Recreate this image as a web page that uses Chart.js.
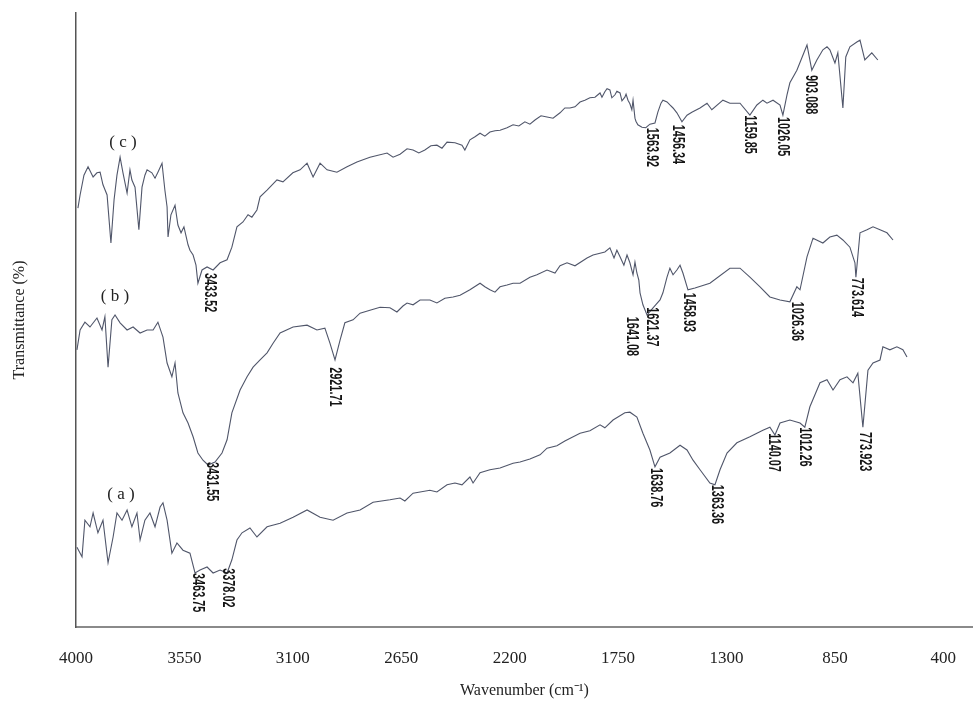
<!DOCTYPE html>
<html>
<head>
<meta charset="utf-8">
<script src="https://cdn.jsdelivr.net/npm/chart.js@4.4.1/dist/chart.umd.min.js"></script>
<style>
  html, body { margin: 0; padding: 0; background: #fff; }
  #c { display: block; }
</style>
</head>
<body>
<canvas id="c" width="973" height="709"></canvas>
<script>
// ---- Data: [wavenumber (cm-1), transmittance (offset %)] ----
const tickValues = [4000, 3550, 3100, 2650, 2200, 1750, 1300, 850, 400];

const seriesC = [
[3992,69.8],[3983,72.0],[3967,75.3],[3950,76.7],[3929,75.0],[3913,75.7],[3900,75.8],[3888,73.7],[3871,72.0],[3855,64.0],
[3842,71.2],[3830,75.3],[3817,78.3],[3805,75.7],[3788,72.3],[3776,76.2],[3768,74.5],[3755,73.3],[3739,66.2],[3726,73.3],
[3714,75.3],[3705,76.2],[3685,75.7],[3672,74.8],[3660,75.8],[3643,77.3],[3631,72.8],[3622,70.0],[3618,65.0],[3606,68.7],
[3589,70.3],[3577,67.0],[3564,65.7],[3552,66.7],[3535,63.7],[3527,62.8],[3514,62.0],[3502,60.3],[3494,57.3],[3477,59.5],
[3456,60.0],[3431,59.5],[3402,60.7],[3373,61.2],[3353,63.3],[3332,66.7],[3307,67.5],[3286,68.7],[3270,68.3],[3249,69.5],
[3236,71.7],[3207,72.8],[3166,74.5],[3141,74.2],[3100,75.7],[3070,76.2],[3041,77.3],[3016,75.0],[2987,77.3],[2958,76.2],
[2917,75.8],[2875,76.7],[2834,77.5],[2780,78.3],[2709,79.0],[2684,78.3],[2655,78.8],[2626,79.7],[2601,79.5],[2577,79.0],
[2552,79.5],[2527,80.2],[2502,80.3],[2481,79.8],[2460,80.8],[2427,80.7],[2398,80.3],[2386,79.5],[2365,81.2],[2344,81.7],
[2323,82.3],[2303,81.8],[2282,82.5],[2261,82.7],[2240,82.8],[2211,83.2],[2186,83.7],[2162,83.5],[2137,84.2],[2116,83.8],
[2095,84.5],[2070,85.2],[2045,85.0],[2020,84.8],[1991,85.7],[1971,86.5],[1950,86.5],[1929,86.7],[1908,87.5],[1888,87.8],
[1867,88.2],[1846,88.3],[1825,89.0],[1817,88.3],[1805,89.2],[1796,89.7],[1784,89.5],[1776,88.2],[1763,88.7],[1755,89.3],
[1742,89.0],[1734,87.7],[1722,88.3],[1717,88.8],[1709,87.8],[1701,87.2],[1693,86.2],[1688,87.8],[1680,84.8],[1676,84.3],
[1668,83.7],[1651,83.3],[1635,83.2],[1618,83.8],[1597,84.0],[1585,85.8],[1572,87.3],[1564,87.8],[1547,87.5],[1535,87.0],
[1522,86.5],[1506,85.7],[1485,84.2],[1464,85.3],[1444,85.8],[1410,86.5],[1381,87.3],[1361,86.2],[1315,87.8],[1286,87.3],
[1244,87.3],[1203,85.3],[1174,87.0],[1149,87.8],[1132,87.3],[1107,87.8],[1078,87.0],[1066,85.3],[1049,88.7],[1037,90.7],
[1008,92.8],[983,95.3],[966,97.0],[946,92.8],[925,94.5],[900,96.2],[883,96.7],[871,96.2],[850,94.0],[838,95.7],
[817,86.5],[805,95.0],[788,96.7],[759,97.5],[746,97.8],[726,94.5],[697,95.7],[672,94.5]
];

const seriesB = [
[3996,46.2],[3983,49.5],[3963,50.8],[3942,50.0],[3913,51.5],[3892,49.5],[3880,51.7],[3867,43.3],[3851,51.2],[3838,52.0],
[3817,50.7],[3788,49.5],[3763,50.0],[3734,49.0],[3705,49.5],[3680,49.5],[3660,50.8],[3639,48.3],[3622,44.0],[3602,41.7],
[3589,44.0],[3577,39.0],[3556,35.7],[3535,34.0],[3514,31.7],[3494,29.0],[3473,27.8],[3452,27.0],[3423,27.5],[3394,29.0],
[3373,31.2],[3353,35.7],[3319,39.5],[3290,41.7],[3265,43.3],[3236,44.5],[3207,45.7],[3182,47.3],[3153,49.0],[3099,50.0],
[3041,50.3],[3000,49.5],[2967,49.8],[2946,47.3],[2925,44.5],[2904,47.8],[2884,50.7],[2850,51.2],[2821,52.3],[2780,52.8],
[2738,53.3],[2697,53.2],[2668,52.5],[2643,53.5],[2626,54.0],[2601,53.7],[2572,54.5],[2531,54.5],[2502,54.0],[2469,54.8],
[2435,55.0],[2406,55.3],[2365,56.2],[2323,57.3],[2303,56.7],[2282,56.2],[2261,55.8],[2240,56.7],[2211,57.0],[2186,57.3],
[2157,57.3],[2116,58.3],[2087,58.7],[2045,59.5],[2012,59.0],[1991,60.2],[1962,60.7],[1929,60.2],[1879,61.5],[1854,62.0],
[1825,62.3],[1805,62.5],[1784,63.2],[1767,61.5],[1755,62.8],[1742,61.7],[1726,60.3],[1713,62.0],[1701,60.7],[1688,58.7],
[1680,60.8],[1672,59.0],[1664,57.8],[1659,55.7],[1647,53.7],[1630,52.0],[1605,53.2],[1576,54.5],[1564,55.7],[1547,58.3],
[1535,59.8],[1522,58.7],[1506,59.5],[1493,60.3],[1481,59.0],[1460,56.2],[1431,56.5],[1369,57.3],[1286,59.8],[1244,59.8],
[1203,58.3],[1161,56.7],[1120,55.0],[1078,54.5],[1037,54.2],[1008,56.7],[995,56.2],[966,61.7],[941,64.8],[900,64.0],
[871,65.0],[842,65.3],[817,64.5],[788,63.3],[767,60.7],[763,58.3],[746,65.7],[717,66.2],[692,66.7],[663,66.2],
[634,65.7],[609,64.5]
];

const seriesA = [
[3996,13.3],[3975,11.7],[3963,17.8],[3942,16.7],[3929,19.0],[3909,15.7],[3888,17.8],[3867,10.7],[3846,15.0],[3830,19.0],
[3809,17.8],[3788,19.5],[3768,16.7],[3747,19.0],[3734,14.5],[3714,17.8],[3693,19.0],[3672,16.7],[3651,20.0],[3639,20.7],
[3622,17.8],[3602,12.3],[3581,14.0],[3556,12.8],[3527,12.3],[3506,9.0],[3485,9.5],[3456,10.0],[3431,9.0],[3402,9.5],
[3373,9.0],[3353,11.2],[3332,14.5],[3311,15.7],[3278,16.5],[3249,15.0],[3207,16.7],[3153,17.3],[3099,18.3],[3041,19.5],
[2987,18.3],[2933,17.8],[2875,19.0],[2821,19.5],[2767,20.8],[2697,21.2],[2655,21.5],[2635,21.0],[2601,22.3],[2572,22.5],
[2531,22.8],[2502,22.5],[2460,23.7],[2427,24.0],[2398,23.7],[2365,25.0],[2352,24.0],[2323,25.7],[2282,26.2],[2240,26.5],
[2186,27.3],[2157,27.5],[2116,28.0],[2074,28.7],[2045,29.8],[2004,30.2],[1971,31.0],[1908,32.3],[1867,32.7],[1825,33.7],
[1805,33.2],[1771,34.5],[1722,35.7],[1701,35.8],[1672,35.0],[1647,32.3],[1618,29.5],[1597,26.7],[1576,28.3],[1535,29.0],
[1493,30.3],[1464,29.5],[1439,27.8],[1410,26.2],[1369,24.0],[1348,23.7],[1327,26.2],[1298,29.0],[1257,30.7],[1203,31.7],
[1149,32.8],[1120,33.3],[1099,32.0],[1078,34.0],[1037,34.5],[995,34.0],[975,33.3],[954,36.7],[912,40.7],[883,41.2],
[858,39.5],[829,41.2],[800,41.7],[775,40.7],[755,42.3],[734,33.3],[713,42.8],[692,44.0],[663,44.5],[651,46.7],
[622,46.2],[593,46.7],[568,46.2],[551,45.0]
];

// Peak annotations
const annText = ["3433.52","3431.55","2921.71","3463.75","3378.02","1563.92","1456.34","1641.08","1621.37","1458.93","1159.85","1026.05","903.088","1026.36","773.614","1638.76","1363.36","1140.07","1012.26","773.923"];
const annX = [3448,3436,2929,3498,3373,1610,1502,1693,1610,1460,1203,1066,950,1008,759,1597,1344,1107,975,726];
const annY = [59.0,27.5,43.3,9.0,9.8,83.2,83.7,51.7,53.3,55.7,85.3,85.0,92.0,54.2,58.2,26.5,23.7,32.3,33.3,32.5];

// Curve names
const names = ["( a )", "( b )", "( c )"];
const nameX = [3813, 3838, 3805];
const nameY = [22.0, 55.0, 80.7];

// ---- Chart ----
const toXY = (s) => s.map(p => ({ x: p[0], y: p[1] }));
const lineColor = '#50566a';

const labelPlugin = {
  id: 'peakLabels',
  afterDatasetsDraw(chart) {
    const { ctx, scales: { x, y } } = chart;
    ctx.save();
    ctx.fillStyle = '#151515';
    ctx.font = 'bold 16px "Liberation Sans", Arial, sans-serif';
    ctx.textBaseline = 'middle';
    ctx.textAlign = 'left';
    annText.forEach((t, i) => {
      const px = x.getPixelForValue(annX[i]);
      const py = y.getPixelForValue(annY[i]);
      ctx.save();
      ctx.translate(px, py);
      ctx.rotate(Math.PI / 2);
      ctx.scale(0.68, 1);
      ctx.fillText(t, 0, 0);
      ctx.restore();
    });
    ctx.font = '17px "Liberation Serif", "Times New Roman", serif';
    ctx.textAlign = 'center';
    ctx.fillStyle = '#222';
    names.forEach((n, i) => {
      ctx.fillText(n, x.getPixelForValue(nameX[i]), y.getPixelForValue(nameY[i]));
    });
    ctx.restore();
  }
};

Chart.defaults.font.family = '"Liberation Serif", "Times New Roman", serif';
Chart.defaults.color = '#222';

new Chart(document.getElementById('c'), {
  type: 'line',
  data: {
    datasets: [
      { label: '(a)', data: toXY(seriesA), borderColor: lineColor, borderWidth: 1.1, pointRadius: 0, tension: 0, fill: false },
      { label: '(b)', data: toXY(seriesB), borderColor: lineColor, borderWidth: 1.1, pointRadius: 0, tension: 0, fill: false },
      { label: '(c)', data: toXY(seriesC), borderColor: lineColor, borderWidth: 1.1, pointRadius: 0, tension: 0, fill: false }
    ]
  },
  options: {
    responsive: false,
    animation: false,
    layout: { padding: { top: 13, left: 0, right: 0, bottom: 0 } },
    plugins: { legend: { display: false }, tooltip: { enabled: false } },
    scales: {
      x: {
        type: 'linear',
        reverse: true,
        min: 277,
        max: 4000,
        afterBuildTicks: (scale) => { scale.ticks = tickValues.map(v => ({ value: v })); },
        afterFit: (scale) => { scale.height = 82; },
        grid: { display: false },
        border: { display: true, color: '#8a8a8a', width: 2 },
        ticks: {
          autoSkip: false, maxRotation: 0, padding: 13,
          font: { size: 17 }, color: '#222',
          callback: (v) => String(v)
        },
        title: {
          display: true, text: 'Wavenumber (cm⁻¹)',
          font: { size: 16 }, color: '#222',
          padding: { top: 0, bottom: 9 }
        }
      },
      y: {
        min: 0,
        max: 102.33,
        afterFit: (scale) => { scale.width = 76; },
        grid: { display: false },
        border: { display: true, color: '#555', width: 1.5 },
        ticks: { display: false },
        title: {
          display: true, text: 'Transmittance (%)',
          font: { size: 16 }, color: '#222',
          padding: { top: 10, bottom: 0 }
        }
      }
    }
  },
  plugins: [labelPlugin]
});
</script>
</body>
</html>
